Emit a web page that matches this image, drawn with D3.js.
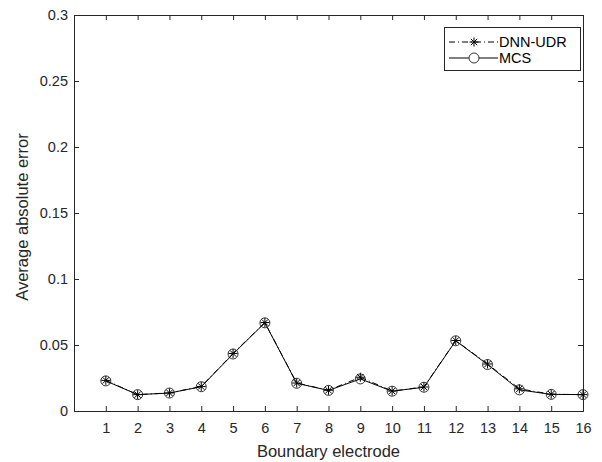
<!DOCTYPE html>
<html>
<head>
<meta charset="utf-8">
<script src="https://cdn.jsdelivr.net/npm/d3@7"></script>
<style>
  body { margin: 0; background: #fff; }
  text { font-family: "Liberation Sans", Arial, sans-serif; }
</style>
</head>
<body>
<div id="chart"></div>
<script>
// Average absolute error per boundary electrode

const electrodes = [1, 2, 3, 4, 5, 6, 7, 8, 9, 10, 11, 12, 13, 14, 15, 16];
const dnnUdr = [0.0232, 0.0124, 0.0137, 0.0186, 0.0436, 0.0670, 0.0212, 0.0157, 0.0256, 0.0151, 0.0182, 0.0534, 0.0356, 0.0168, 0.0127, 0.0124];
const mcs    = [0.0228, 0.0124, 0.0136, 0.0184, 0.0432, 0.0668, 0.0210, 0.0156, 0.0243, 0.0150, 0.0180, 0.0532, 0.0352, 0.0160, 0.0126, 0.0124];
const yTicks = [0, 0.05, 0.1, 0.15, 0.2, 0.25, 0.3];

const width = 602, height = 462;
const margin = { top: 15, right: 19, bottom: 51, left: 74 };
const axisColor = "#262626";

const svg = d3.select("#chart").append("svg")
    .attr("width", width)
    .attr("height", height);

const x = d3.scaleLinear().domain([0, 16]).range([margin.left, width - margin.right]);
const y = d3.scaleLinear().domain([0, 0.3]).range([height - margin.bottom, margin.top]);

// axes with inward ticks
const tickLen = 5;
svg.append("g")
    .attr("transform", `translate(0,${y(0)})`)
    .call(d3.axisBottom(x).tickValues(electrodes).tickSize(-tickLen).tickPadding(12).tickFormat(d3.format("d")));
svg.append("g")
    .attr("transform", `translate(0,${y(0.3)})`)
    .call(d3.axisTop(x).tickValues(electrodes).tickSize(-tickLen).tickFormat(""));
svg.append("g")
    .attr("transform", `translate(${x(0)},0)`)
    .call(d3.axisLeft(y).tickValues(yTicks).tickSize(-tickLen).tickPadding(6).tickFormat(d => d === 0 ? "0" : String(d)));
svg.append("g")
    .attr("transform", `translate(${x(16)},0)`)
    .call(d3.axisRight(y).tickValues(yTicks).tickSize(-tickLen).tickFormat(""));

svg.selectAll(".domain").attr("stroke", axisColor);
svg.selectAll(".tick line").attr("stroke", axisColor);
svg.selectAll(".tick text")
    .attr("fill", axisColor)
    .attr("font-size", "14.5px")
    .style("font-family", "'Liberation Sans', Arial, sans-serif");

// axis labels
svg.append("text")
    .attr("x", (x(0) + x(16)) / 2)
    .attr("y", 457)
    .attr("text-anchor", "middle")
    .attr("font-size", "16.5px")
    .attr("fill", axisColor)
    .text("Boundary electrode");

svg.append("text")
    .attr("transform", `translate(28,217) rotate(-90)`)
    .attr("text-anchor", "middle")
    .attr("font-size", "16.5px")
    .attr("fill", axisColor)
    .text("Average absolute error");

const line = d3.line().x((d, i) => x(electrodes[i])).y(d => y(d));

// MCS: solid line with circles
svg.append("path")
    .datum(mcs)
    .attr("fill", "none")
    .attr("stroke", "#000")
    .attr("stroke-width", 1)
    .attr("d", line);

svg.selectAll(".mcs-pt")
    .data(mcs)
    .enter()
    .append("circle")
    .attr("class", "mcs-pt")
    .attr("cx", (d, i) => x(electrodes[i]))
    .attr("cy", d => y(d))
    .attr("r", 5)
    .attr("fill", "none")
    .attr("stroke", "#333")
    .attr("stroke-width", 1);

// DNN-UDR: dash-dot line with asterisks
svg.append("path")
    .datum(dnnUdr)
    .attr("fill", "none")
    .attr("stroke", "#000")
    .attr("stroke-width", 1)
    .attr("stroke-dasharray", "6,3,1,3")
    .attr("d", line);

function asterisk(g, cx, cy, s) {
    const p = `M${cx - s},${cy}L${cx + s},${cy}` +
        `M${cx},${cy - s}L${cx},${cy + s}` +
        `M${cx - s * 0.7},${cy - s * 0.7}L${cx + s * 0.7},${cy + s * 0.7}` +
        `M${cx - s * 0.7},${cy + s * 0.7}L${cx + s * 0.7},${cy - s * 0.7}`;
    g.append("path").attr("d", p).attr("stroke", "#000").attr("stroke-width", 1).attr("fill", "none");
}

dnnUdr.forEach((d, i) => asterisk(svg, x(electrodes[i]), y(d), 4.5));

// legend
const legend = svg.append("g");
legend.append("rect")
    .attr("x", 444.5).attr("y", 27.5)
    .attr("width", 136).attr("height", 43)
    .attr("fill", "#fff")
    .attr("stroke", axisColor);

legend.append("line")
    .attr("x1", 449).attr("x2", 498).attr("y1", 42).attr("y2", 42)
    .attr("stroke", "#000").attr("stroke-dasharray", "6,3,1,3");
asterisk(legend, 474, 42, 4.5);
legend.append("text").attr("x", 499).attr("y", 47)
    .attr("font-size", "14.5px").attr("fill", "#000").text("DNN-UDR");

legend.append("line")
    .attr("x1", 449).attr("x2", 498).attr("y1", 58).attr("y2", 58)
    .attr("stroke", "#000");
legend.append("circle").attr("cx", 474).attr("cy", 58).attr("r", 5)
    .attr("fill", "#fff").attr("stroke", "#333");
legend.append("text").attr("x", 499).attr("y", 63)
    .attr("font-size", "14.5px").attr("fill", "#000").text("MCS");
</script>
</body>
</html>
